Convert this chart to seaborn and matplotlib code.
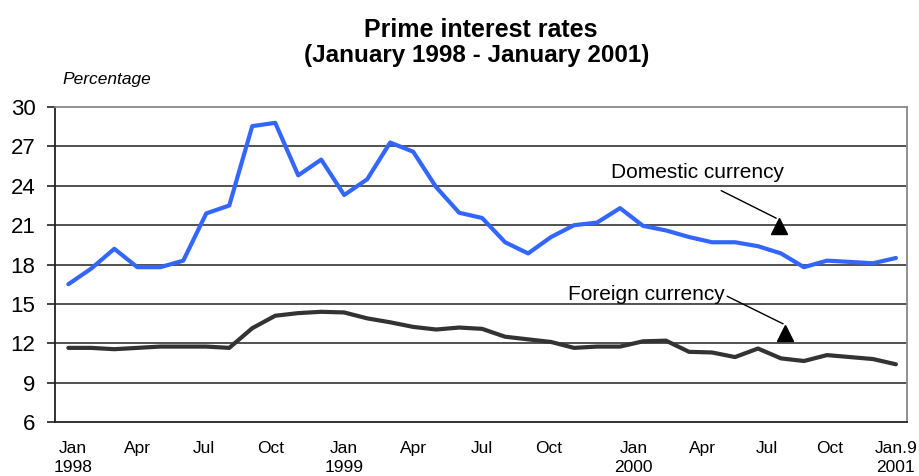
import matplotlib
matplotlib.use("Agg")
import matplotlib.pyplot as plt
import seaborn as sns
import pandas as pd

# monthly prime rates, Jan 1998 .. Jan 2001
domestic = [16.5, 17.7, 19.2, 17.8, 17.8, 18.3, 21.9, 22.5, 28.55, 28.8, 24.8, 26.0,
            23.3, 24.5, 27.3, 26.6, 23.9, 21.95, 21.55, 19.7, 18.85, 20.1, 21.0, 21.2,
            22.3, 20.95, 20.6, 20.1, 19.7, 19.7, 19.4, 18.85, 17.8, 18.3, 18.2, 18.1, 18.5]
foreign = [11.65, 11.65, 11.55, 11.65, 11.75, 11.75, 11.75, 11.65, 13.15, 14.1, 14.3, 14.4,
           14.35, 13.9, 13.6, 13.25, 13.05, 13.2, 13.1, 12.5, 12.3, 12.1, 11.65, 11.75,
           11.75, 12.15, 12.2, 11.35, 11.3, 10.95, 11.6, 10.85, 10.65, 11.1, 10.95, 10.8, 10.4]
period = list(range(len(domestic)))

tick_labels = ["Jan\n1998", "Apr", "Jul", "Oct", "Jan\n1999", "Apr", "Jul", "Oct",
               "Jan\n2000", "Apr", "Jul", "Oct", "Jan.9\n2001"]
tick_pos = [0.2, 3.0, 5.9, 8.8, 12.0, 15.0, 18.0, 20.9, 24.6, 27.6, 30.4, 33.1, 36.0]
y_ticks = [6, 9, 12, 15, 18, 21, 24, 27, 30]

df = pd.DataFrame({
    "period": period * 2,
    "rate": domestic + foreign,
    "series": ["Domestic currency"] * len(domestic) + ["Foreign currency"] * len(foreign),
})

sns.set_style("white")
plt.rcParams["font.family"] = ["Liberation Sans", "DejaVu Sans"]
plt.rcParams["text.color"] = "black"
plt.rcParams["xtick.color"] = "black"
plt.rcParams["ytick.color"] = "black"

fig = plt.figure(figsize=(9.2, 4.76), dpi=100)
ax = fig.add_axes([0.0598, 0.1134, 0.926, 0.6616])

sns.lineplot(data=df, x="period", y="rate", hue="series", ax=ax,
             palette={"Domestic currency": "#3366ff", "Foreign currency": "#333333"},
             linewidth=3.0, legend=False)

ax.set_xlim(-0.58, 36.48)
ax.set_ylim(6, 30)
ax.set_yticks(y_ticks)
ax.set_xticks(tick_pos)
ax.set_xticklabels(tick_labels, fontsize=12.5, linespacing=1.3)
ax.tick_params(axis="x", length=0, pad=14)
ax.tick_params(axis="y", length=6, width=1.2, color="#222222", pad=8, labelsize=16,
               direction="out", left=True)
for g in y_ticks[1:-1]:
    ax.axhline(g, color="#333333", lw=1.2, zorder=0)
ax.set_xlabel("")
ax.set_ylabel("")

for side in ["left", "bottom"]:
    ax.spines[side].set_color("#222222")
    ax.spines[side].set_linewidth(1.3)
for side in ["top", "right"]:
    ax.spines[side].set_color("#888888")
    ax.spines[side].set_linewidth(1.3)

# labels with pointer lines
ax.text(27.36, 25.05, "Domestic currency", fontsize=15, ha="center", va="center")
ax.annotate("", xy=(30.9, 21.44), xytext=(28.29, 23.73),
            arrowprops=dict(arrowstyle="-", color="black", lw=1.0))
ax.plot([30.92], [20.91], marker="^", color="black", markersize=12, ls="none")

ax.text(25.14, 15.75, "Foreign currency", fontsize=15, ha="center", va="center")
ax.annotate("", xy=(31.2, 13.39), xytext=(28.55, 15.68),
            arrowprops=dict(arrowstyle="-", color="black", lw=1.0))
ax.plot([31.18], [12.82], marker="^", color="black", markersize=12, ls="none")

fig.text(0.523, 1 - 36.7 / 476, "Prime interest rates", fontsize=18, fontweight="bold",
         ha="center", va="baseline")
fig.text(0.518, 1 - 62.3 / 476, "(January 1998 - January 2001)", fontsize=17.5,
         fontweight="bold", ha="center", va="baseline")
fig.text(62 / 920, 1 - 84 / 476, "Percentage", fontsize=12.5, style="italic",
         ha="left", va="baseline")

fig.savefig("out.png", dpi=100)
